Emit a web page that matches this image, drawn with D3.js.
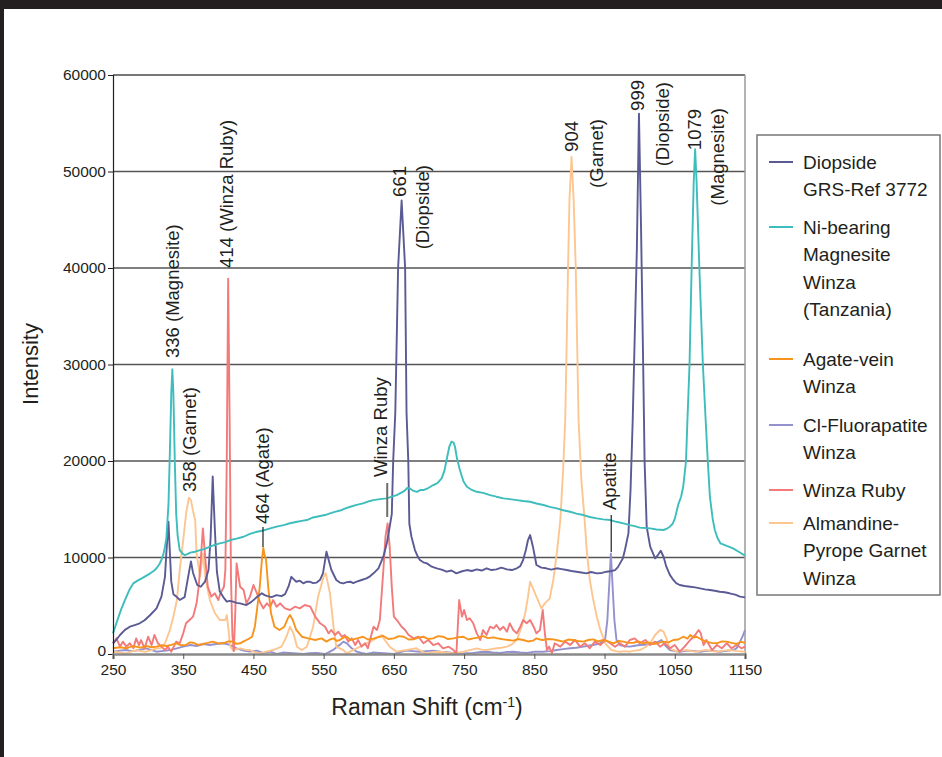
<!DOCTYPE html>
<html>
<head>
<meta charset="utf-8">
<script src="https://cdn.jsdelivr.net/npm/d3@7"></script>
<style>
  html, body { margin: 0; padding: 0; background: #231f20; }
  svg { display: block; }
  text { font-family: "Liberation Sans", Arial, Helvetica, sans-serif; fill: #231f20; }
</style>
</head>
<body>
<svg id="chart" width="942" height="757"></svg>
<script>
// ---------------- DATA ----------------
const xTicks = [250, 350, 450, 550, 650, 750, 850, 950, 1050, 1150];
const yTicks = [0, 10000, 20000, 30000, 40000, 50000, 60000];

const seriesNames = ["Diopside GRS-Ref 3772", "Ni-bearing Magnesite Winza (Tanzania)", "Agate-vein Winza", "Cl-Fluorapatite Winza", "Winza Ruby", "Almandine-Pyrope Garnet Winza"];
const legendLines = [["Diopside", "GRS-Ref 3772"], ["Ni-bearing", "Magnesite", "Winza", "(Tanzania)"], ["Agate-vein", "Winza"], ["Cl-Fluorapatite", "Winza"], ["Winza Ruby"], ["Almandine-", "Pyrope Garnet", "Winza"]];
const seriesColors = ["#5a5a94", "#3dbdbb", "#f7941d", "#9392cf", "#f27a7a", "#fdc690"];

const diopside = [[250,1100],[255,1500],[260,1970],[267,2500],[274,2830],[281,3000],[288,3180],[295,3500],[303,4040],[312,4730],[319,5940],[324,8000],[326,10500],[329,13700],[331,10500],[333,7500],[336,6200],[341,5900],[345,5600],[352,5900],[357,8000],[361,9600],[364,8400],[370,7150],[375,6970],[381,7490],[386,8700],[389,12000],[392,18400],[395,13000],[398,8500],[402,6500],[407,5900],[412,5420],[416,5500],[421,5420],[426,5300],[431,5250],[436,5150],[440,5080],[447,5400],[455,5900],[462,6300],[466,6100],[470,6000],[476,5900],[483,6100],[490,6000],[495,6200],[500,7000],[504,8000],[508,7700],[511,7490],[516,7600],[521,7320],[526,7500],[530,7490],[535,7350],[540,7400],[545,7700],[549,8360],[554,10600],[558,9500],[561,8700],[568,7670],[573,7400],[578,7320],[583,7450],[588,7490],[592,7350],[597,7490],[604,7670],[611,7840],[616,8050],[621,8360],[628,8880],[635,10080],[640,11500],[644,13190],[647,14500],[649,20000],[652,25000],[656,40000],[661,47000],[666,40000],[668,25000],[670.5,20000],[672,13500],[675,12150],[680,10770],[684,10100],[687,9740],[692,9500],[697,9390],[704,9050],[711,8880],[718,8750],[725,8530],[732,8650],[739,8360],[746,8550],[754,8700],[761,8600],[768,8770],[775,8650],[782,8880],[789,8700],[796,8770],[803,8950],[811,8770],[818,8700],[825,8880],[830,9100],[834,9740],[838,10800],[841,11810],[844,12330],[848,11120],[851,10000],[853,9220],[860,8950],[867,8880],[874,8750],[882,8880],[889,8800],[896,8700],[903,8600],[910,8530],[917,8450],[924,8360],[931,8500],[939,8360],[946,8400],[953,8530],[960,8600],[965,8700],[969,9000],[972,9390],[976,9900],[979,10770],[984,12500],[987,17000],[990,24000],[993,33000],[996,42000],[999,56000],[1002,44000],[1005,30000],[1007,20000],[1010,13190],[1015,11120],[1022,9910],[1026,10250],[1030,10700],[1034,10080],[1038,9050],[1043,8200],[1048,7670],[1052,7350],[1057,7150],[1064,7050],[1072,6970],[1079,6900],[1086,6800],[1093,6700],[1100,6630],[1107,6550],[1114,6450],[1121,6400],[1128,6290],[1136,6150],[1143,5940],[1150,5870]];

const magnesite = [[250,2140],[254,3000],[258,3870],[262,4700],[267,5590],[273,6600],[279,7320],[285,7600],[291,7840],[297,8100],[303,8360],[308,8600],[312,8880],[316,9300],[319,9740],[322,10400],[324,11120],[326,12000],[329,15500],[331,21000],[333,27000],[334.5,29500],[336,27000],[338,20000],[340,14500],[342,12300],[345,10770],[349,10400],[352,10250],[356,10350],[360,10500],[367,10600],[374,10770],[381,10900],[388,11120],[395,11300],[402,11470],[410,11600],[417,11810],[426,11950],[436,12150],[445,12450],[455,12670],[464,12800],[474,13020],[483,13200],[493,13360],[502,13550],[512,13700],[519,13800],[526,13880],[535,14150],[545,14300],[552,14400],[559,14580],[567,14750],[575,14900],[581,15100],[588,15260],[597,15450],[606,15610],[613,15800],[621,15950],[630,16050],[640,16130],[647,16300],[654,16470],[660,16700],[665,16900],[669,17200],[673,17160],[678,16900],[683,16800],[688,17000],[692,16990],[699,17200],[706,17510],[712,17700],[718,18200],[722,19000],[725,20100],[729,21500],[732,22000],[735,21900],[737,21480],[740,20200],[744,19060],[749,17900],[754,17330],[761,17000],[768,16810],[777,16700],[787,16470],[796,16300],[806,16130],[815,16050],[825,15950],[834,15850],[844,15780],[853,15600],[863,15440],[872,15250],[882,15090],[891,14900],[901,14740],[910,14550],[920,14400],[929,14200],[939,14060],[948,13950],[958,13880],[967,13700],[977,13540],[986,13360],[993,13250],[1000,13100],[1008,13050],[1015,13020],[1024,12900],[1034,12850],[1039,13000],[1043,13190],[1047,13500],[1050,14000],[1055,15500],[1059,16300],[1062,17330],[1066,20000],[1068,24200],[1071,30000],[1074,40000],[1077,49000],[1079,52300],[1081,49000],[1085,40000],[1090,30000],[1094,24200],[1097,20000],[1100,16300],[1104,14000],[1107,12850],[1111,12000],[1115,11470],[1124,11200],[1133,10950],[1141,10600],[1149,10250],[1150,10300]];

const agate = [[250,590],[260,700],[269,590],[276,800],[283,760],[290,650],[297,830],[305,700],[312,760],[319,900],[326,830],[333,950],[340,1110],[347,900],[354,930],[359,1200],[364,1170],[371,950],[378,1040],[385,1150],[392,1280],[400,1100],[407,1110],[414,1300],[421,1280],[426,1050],[431,1110],[436,1300],[440,1450],[444,1600],[448,1790],[452,2830],[455,4560],[459,6970],[462,9740],[464,11000],[466,10200],[468,9740],[471,6970],[475,4220],[480,2830],[487,2490],[494,2830],[499,3700],[502,4040],[506,3520],[511,2490],[519,1790],[528,1620],[538,1450],[547,1620],[554,1280],[559,1500],[564,1620],[569,1350],[573,1450],[578,1700],[583,1790],[588,1450],[592,1520],[599,1650],[606,1790],[613,1500],[621,1590],[628,1750],[635,1860],[642,1550],[650,1620],[657,1850],[664,1790],[671,1500],[678,1520],[685,1700],[692,1790],[699,1550],[706,1620],[713,1850],[720,1790],[727,1550],[735,1620],[742,1750],[749,1790],[756,1500],[763,1620],[770,1700],[777,1860],[784,1650],[792,1720],[799,1600],[806,1520],[813,1450],[820,1380],[827,1550],[834,1450],[841,1300],[848,1380],[853,1620],[858,1500],[862,1450],[870,1550],[877,1520],[884,1400],[891,1280],[898,1500],[905,1450],[912,1350],[920,1280],[927,1450],[934,1520],[941,1300],[948,1450],[955,1300],[963,1110],[970,1350],[977,1280],[984,1150],[991,1170],[998,1300],[1005,1110],[1012,1200],[1020,1040],[1027,1150],[1034,1280],[1041,1200],[1048,1450],[1055,1500],[1062,1790],[1068,1600],[1072,1970],[1077,1700],[1081,1790],[1088,1500],[1095,1280],[1102,1150],[1110,1110],[1117,1300],[1124,1280],[1131,1150],[1138,1040],[1144,1250],[1150,1170]];

const apatite = [[250,240],[260,350],[269,410],[276,300],[283,350],[290,450],[297,590],[305,410],[312,240],[319,300],[326,350],[333,450],[341,590],[350,760],[360,930],[369,830],[379,1040],[388,930],[397,1040],[407,1110],[417,930],[426,590],[436,350],[445,240],[455,350],[464,100],[474,240],[483,0],[492,150],[502,100],[511,50],[521,0],[530,80],[540,100],[552,0],[559,240],[564,450],[569,760],[574,1000],[578,1280],[583,1110],[590,590],[597,240],[604,100],[611,0],[620,150],[630,100],[640,50],[650,0],[659,200],[668,350],[677,300],[687,240],[696,300],[706,350],[716,250],[725,200],[735,100],[744,0],[753,80],[763,100],[772,200],[782,240],[791,150],[801,100],[810,200],[820,240],[830,150],[839,100],[851,240],[862,240],[872,300],[882,410],[891,500],[901,590],[910,650],[920,760],[927,850],[934,930],[944,1110],[951,1620],[954,3520],[956.5,6970],[959,10430],[961.5,6970],[964,3520],[967,1450],[972,930],[979,800],[986,760],[993,850],[1000,930],[1007,950],[1015,1040],[1021,1150],[1027,1280],[1031,1450],[1036,930],[1043,410],[1050,300],[1057,240],[1064,300],[1072,350],[1079,300],[1086,240],[1093,300],[1100,350],[1107,300],[1114,240],[1121,300],[1128,350],[1134,450],[1138,590],[1143,1280],[1147,1900],[1150,2490]];

const ruby = [[250,1100],[255,1620],[260,760],[264,1280],[269,760],[274,1110],[279,590],[283,1620],[287,930],[290,1450],[295,590],[300,1790],[305,930],[309,1970],[314,1110],[319,760],[324,410],[328,760],[333,240],[340,1280],[345,1110],[350,2140],[354,3180],[359,3520],[364,3870],[369,5250],[372,6970],[375,9740],[378,13020],[382,9390],[385,6970],[390,5940],[395,6290],[400,5590],[403,6290],[408,6970],[410,8700],[412,20000],[414,38900],[416,25000],[418,8000],[420,2000],[422,300],[424,4000],[426,9390],[431,6970],[436,6630],[440,5250],[445,5940],[450,7150],[455,6290],[459,5420],[464,4730],[469,5250],[474,4900],[478,5590],[483,4900],[488,5250],[495,4730],[502,4560],[509,4900],[516,4730],[523,5080],[531,4900],[538,3870],[545,3180],[552,2830],[557,2140],[561,2490],[566,1970],[571,2310],[576,1790],[580,1970],[585,1280],[590,1620],[595,930],[599,1450],[604,760],[609,1110],[613,590],[621,2830],[626,2490],[630,3520],[635,8700],[638,12150],[641,13540],[644,11120],[647,6970],[650,3870],[656,3350],[661,2830],[666,2490],[671,1970],[678,1620],[685,1790],[692,1110],[699,1450],[706,930],[713,1110],[720,590],[728,760],[735,410],[739,70],[743,5590],[747,3870],[750,4560],[754,3520],[758,3700],[763,3180],[768,2140],[773,1450],[777,2490],[782,1970],[787,2830],[792,2660],[796,3000],[801,2490],[806,2830],[811,2310],[815,3180],[820,2490],[825,2140],[830,2830],[834,3520],[839,3180],[844,3520],[849,2830],[853,2140],[858,2490],[862,4560],[865,2140],[868,410],[871,760],[875,100],[879,1110],[887,760],[894,1280],[901,930],[908,1450],[915,760],[922,1110],[929,590],[936,1280],[944,930],[951,1450],[958,1110],[965,760],[972,1110],[979,760],[986,1450],[993,1620],[1000,1110],[1008,1450],[1015,930],[1022,1280],[1029,760],[1036,1110],[1043,590],[1050,930],[1057,240],[1064,760],[1072,1450],[1079,1970],[1084,2490],[1087,2140],[1091,930],[1095,1450],[1103,410],[1110,930],[1117,590],[1124,1110],[1131,590],[1138,930],[1145,590],[1150,760]];

const garnet = [[250,240],[259,150],[269,70],[276,250],[283,410],[290,300],[297,240],[305,400],[312,590],[317,590],[324,1110],[331,2490],[336,3870],[341,5590],[345,8700],[350,11810],[354,14500],[358,16200],[361,15950],[364,14800],[367,13880],[369,10430],[374,8010],[378,10400],[382,7670],[388,5590],[395,4250],[402,3520],[410,3520],[412,4040],[414,2830],[417,760],[421,410],[431,590],[438,450],[445,410],[452,200],[459,70],[468,250],[478,410],[490,760],[497,1790],[502,2830],[507,2140],[512,760],[519,410],[526,760],[535,2830],[542,5940],[550,8010],[553,8360],[559,6290],[564,2830],[568,760],[578,410],[583,70],[592,410],[602,760],[611,1110],[621,1450],[628,1790],[633,1970],[637,1450],[644,760],[654,240],[661,350],[668,410],[675,500],[682,590],[690,250],[697,70],[706,200],[716,240],[725,150],[735,70],[742,150],[749,240],[758,400],[768,590],[775,450],[782,410],[789,500],[796,590],[803,650],[811,760],[818,1000],[825,1450],[832,2830],[837,4220],[841,5940],[844,7490],[849,6630],[853,5940],[860,4730],[865,5250],[872,5770],[877,7670],[882,10430],[887,13880],[891,19060],[894,24240],[896,32000],[898,40000],[900,47000],[903,51500],[906,47000],[909,40000],[911,32000],[913,24240],[917,18000],[921,14500],[925,10430],[929,7670],[934,5590],[939,3870],[944,2490],[951,1110],[960,410],[966,300],[972,240],[979,300],[986,240],[993,350],[1000,410],[1008,700],[1015,1110],[1022,1970],[1029,2490],[1034,2310],[1038,1620],[1043,590],[1053,240],[1060,350],[1067,410],[1074,300],[1081,240],[1088,350],[1095,410],[1103,300],[1110,240],[1119,350],[1128,410],[1139,300],[1150,240]];

const seriesData = [diopside, magnesite, agate, apatite, ruby, garnet];

// Annotations: label pieces anchored at a wavenumber column
const annotations = [
  { wn: 335.4, text: "336 (Magnesite)", anchor: "start", yPx: 358 },
  { wn: 411, text: "414 (Winza Ruby)", anchor: "start", yPx: 268 },
  { wn: 658.7, text: "661", anchor: "end", yPx: 166 },
  { wn: 691, text: "(Diopside)", anchor: "end", yPx: 165 },
  { wn: 903.6, text: "904", anchor: "end", yPx: 121 },
  { wn: 939, text: "(Garnet)", anchor: "end", yPx: 119 },
  { wn: 997.6, text: "999", anchor: "end", yPx: 80 },
  { wn: 1033, text: "(Diopside)", anchor: "end", yPx: 82 },
  { wn: 1078.8, text: "1079", anchor: "end", yPx: 109 },
  { wn: 1111.5, text: "(Magnesite)", anchor: "end", yPx: 108 },
  { wn: 359.6, text: "358 (Garnet)", anchor: "start", yPx: 492 },
  { wn: 463.6, text: "464 (Agate)", anchor: "start", yPx: 524 },
  { wn: 631.6, text: "Winza Ruby", anchor: "start", yPx: 477 },
  { wn: 957.7, text: "Apatite", anchor: "start", yPx: 510 }
];
const leaders = [
  { wn: 463.6, y1: 527, y2: 547, color: "#231f20", w: 1.2 },
  { wn: 640.5, y1: 483, y2: 517, color: "#6d6d6d", w: 2 },
  { wn: 959.5, y1: 515, y2: 552, color: "#231f20", w: 1.2 }
];

// ---------------- DRAW ----------------
const svg = d3.select("#chart");
// frame
svg.append("rect").attr("x", 0).attr("y", 0).attr("width", 942).attr("height", 757).attr("fill", "#231f20");
svg.append("rect").attr("x", 4).attr("y", 9).attr("width", 938).attr("height", 748).attr("fill", "#ffffff");

const L = 113, R = 745, T = 75, B = 654;
const x = d3.scaleLinear().domain([250, 1150]).range([L, R]);
const y = d3.scaleLinear().domain([0, 60000]).range([B, T]);

// gridlines
svg.append("g").selectAll("line").data(yTicks.filter(v => v > 0)).join("line")
  .attr("x1", L).attr("x2", R)
  .attr("y1", d => y(d)).attr("y2", d => y(d))
  .attr("stroke", d => d === 60000 ? "#4a4a4a" : "#555555")
  .attr("stroke-width", 1.3);

// right border
svg.append("line").attr("x1", R).attr("x2", R).attr("y1", T).attr("y2", B)
  .attr("stroke", "#9a9a9a").attr("stroke-width", 1.5);

// series
const line = d3.line().x(d => x(d[0])).y(d => y(d[1]));
const drawOrder = [3, 5, 4, 2, 0, 1];
const plotG = svg.append("g");
drawOrder.forEach(i => {
  plotG.append("path").datum(seriesData[i])
    .attr("d", line)
    .attr("fill", "none")
    .attr("stroke", seriesColors[i])
    .attr("stroke-width", 1.9)
    .attr("stroke-linejoin", "round");
});

// y axis
const yAxis = d3.axisLeft(y).tickValues(yTicks).tickSize(5).tickPadding(2).tickFormat(d3.format("d"));
const yg = svg.append("g").attr("transform", `translate(${L},0)`).call(yAxis);
yg.select(".domain").attr("stroke", "#231f20").attr("stroke-width", 1.2);
yg.selectAll(".tick line").attr("stroke", "#231f20");
yg.selectAll(".tick text").attr("font-size", 15.5).attr("fill", "#231f20")
  .attr("font-family", "'Liberation Sans', Arial, sans-serif");
yg.selectAll(".tick").filter(d => d === 0).select("text").attr("dy", "0.1em");

// x axis
const xAxis = d3.axisBottom(x).tickValues(xTicks).tickSize(5).tickPadding(5).tickFormat(d3.format("d"));
const xg = svg.append("g").attr("transform", `translate(0,${B})`).call(xAxis);
xg.select(".domain").attr("stroke", "#8a8a8a").attr("stroke-width", 2.5);
xg.selectAll(".tick line").attr("stroke", "#555");
xg.selectAll(".tick text").attr("font-size", 15.5).attr("fill", "#231f20")
  .attr("font-family", "'Liberation Sans', Arial, sans-serif");

// axis titles
svg.append("text").attr("transform", "translate(38,364) rotate(-90)")
  .attr("text-anchor", "middle").attr("font-size", 22).text("Intensity");
const xt = svg.append("text").attr("x", 427).attr("y", 715).attr("text-anchor", "middle").attr("font-size", 23);
xt.append("tspan").text("Raman Shift (cm");
xt.append("tspan").attr("font-size", 14).attr("dy", -8).text("-1");
xt.append("tspan").attr("dy", 8).text(")");

// annotations
const annG = svg.append("g");
annotations.forEach(a => {
  annG.append("text")
    .attr("transform", `translate(${x(a.wn)},${a.yPx}) rotate(-90)`)
    .attr("text-anchor", a.anchor)
    .attr("dy", "0.35em")
    .attr("font-size", 18.5)
    .text(a.text);
});
leaders.forEach(l => {
  annG.append("line").attr("x1", x(l.wn)).attr("x2", x(l.wn)).attr("y1", l.y1).attr("y2", l.y2)
    .attr("stroke", l.color).attr("stroke-width", l.w);
});

// legend
const lg = svg.append("g");
lg.append("rect").attr("x", 757).attr("y", 135).attr("width", 183).attr("height", 460)
  .attr("fill", "#fff").attr("stroke", "#777").attr("stroke-width", 1.5);
const legendTop = [162, 227, 359, 425, 490, 523];
const lineStep = 27.6;
legendLines.forEach((lines, i) => {
  const y0 = legendTop[i];
  lg.append("line").attr("x1", 769).attr("x2", 793).attr("y1", y0).attr("y2", y0)
    .attr("stroke", seriesColors[i]).attr("stroke-width", 2);
  lines.forEach((t, j) => {
    lg.append("text").attr("x", 803).attr("y", y0 + j * lineStep).attr("dy", "0.35em")
      .attr("font-size", 19).text(t);
  });
});
</script>
</body>
</html>
